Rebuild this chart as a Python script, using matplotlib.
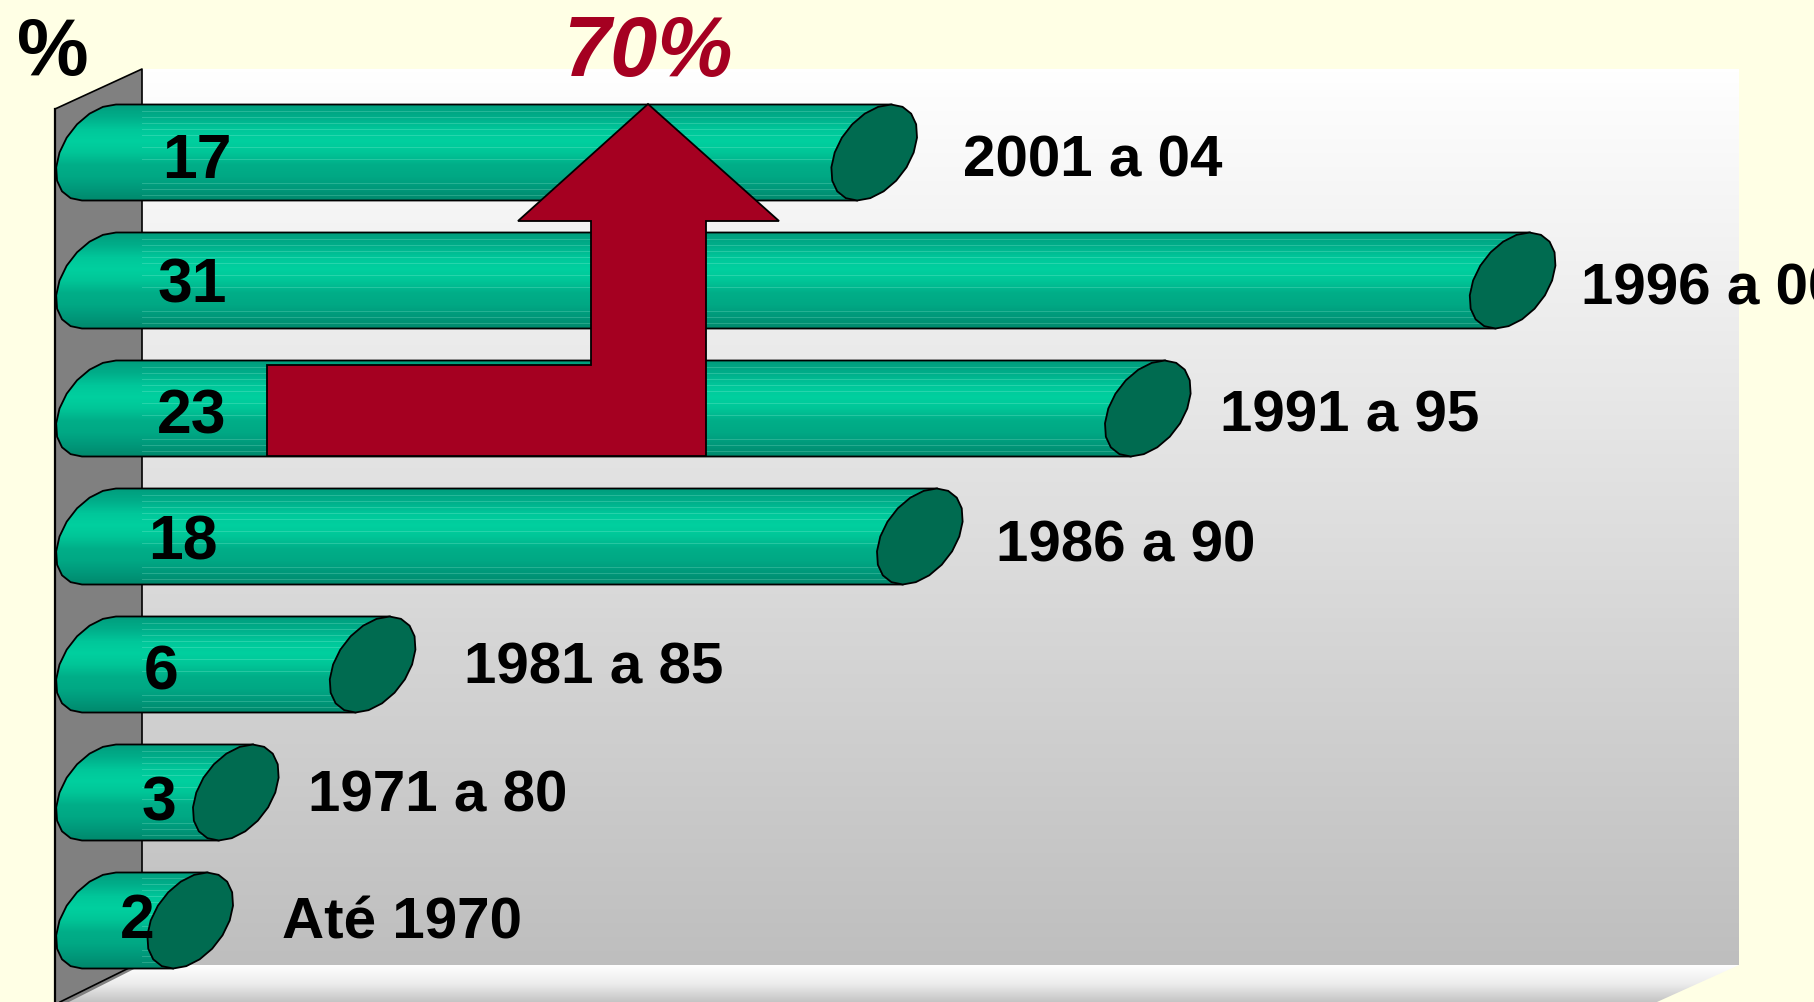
import numpy as np
import matplotlib
matplotlib.use('Agg')
import matplotlib.pyplot as plt
from matplotlib.colors import LinearSegmentedColormap
from matplotlib.patches import Polygon

plt.rcParams['font.family'] = ['Liberation Sans', 'DejaVu Sans']

# Data
periods = ['2001 a 04', '1996 a 00', '1991 a 95', '1986 a 90', '1981 a 85', '1971 a 80', 'Até 1970']
shares = [17, 31, 23, 18, 6, 3, 2]

# Label positions in image pixels
value_x = [197, 192, 192, 183, 161, 159, 137]
value_base = [178, 302, 434, 560, 690, 821, 938]
period_x = [963, 1581, 1220, 996, 464, 308, 282]
period_base = [176, 304, 432, 561, 683, 812, 939]

W, H = 1814, 1003
BG = '#FFFFE5'
RED = '#A50021'
CAP = '#006B50'

# scale of the bars: value 0 sits at px 99, rows are 128 px apart
PX_UNIT = 45.6
X0, Y0, ROW = 99, 153.5, 128
RX, SHEAR, RY = 39.5 / PX_UNIT, 17 / PX_UNIT, 48 / ROW

fig = plt.figure(figsize=(W / 100, H / 100), dpi=100, facecolor=BG)

# pixel axes for the walls, labels and arrow
bg = fig.add_axes([0, 0, 1, 1], zorder=0)
bg.set_xlim(0, W)
bg.set_ylim(H, 0)
bg.axis('off')

# back wall
wall = LinearSegmentedColormap.from_list('wall', ['#FFFFFF', '#BEBEBE'])
grad = np.linspace(0, 1, 256).reshape(-1, 1)
bg.imshow(grad, cmap=wall, extent=[142, 1739, 966, 70], aspect='auto', zorder=1)

# floor
floor_cm = LinearSegmentedColormap.from_list('floor', ['#FFFFFF', '#EDEDED', '#C4C4C4'])
floor = bg.imshow(grad, cmap=floor_cm, extent=[55, 1739, 1003, 966], aspect='auto', zorder=1)
floor_clip = Polygon([(142, 966), (1739, 966), (1657, 1003), (60, 1003)], transform=bg.transData)
floor.set_clip_path(floor_clip)

# side wall
bg.add_patch(Polygon([(55, 110), (142, 70), (142, 966), (55, 1010)], closed=True,
                     facecolor='#808080', edgecolor='none', zorder=2))
bg.plot([55, 142, 142], [110, 70, 966], color='black', lw=1.2, zorder=2)
bg.plot([55, 55], [110, 1003], color='black', lw=1.6, zorder=2)
bg.plot([60, 135], [1003, 966], color='black', lw=1.2, zorder=2)
bg.set_xlim(0, W)
bg.set_ylim(H, 0)

# chart axes on top, in data units
ax = fig.add_axes([0, 0, 1, 1], zorder=1)
ax.patch.set_alpha(0)
ax.axis('off')
xlim = (-X0 / PX_UNIT, (W - X0) / PX_UNIT)
ylim = ((H - Y0) / ROW, -Y0 / ROW)

# vertical shading of a cylinder, with the thin light lines of the original
stops = ['#009E7E', '#00AE8A', '#00C79A', '#00D09F', '#00C597', '#00AE88', '#00A884', '#00987A', '#00886C']
cyl = LinearSegmentedColormap.from_list('cyl', stops)
shade = cyl(np.linspace(0, 1, 96))[:, :3]
striped = shade.copy()
for r in [6, 12, 18, 24, 30, 42, 54, 78, 84, 90]:
    striped[r] = striped[r] * 0.8 + 0.2 * np.array([0.75, 1, 0.92])


def ellipse(cx, cy, t):
    return cx + RX * np.cos(t) - SHEAR * np.sin(t), cy + RY * np.sin(t)


for i, v in enumerate(shares):
    t_left = np.linspace(-np.pi / 2, -3 * np.pi / 2, 11)
    xl, yl = ellipse(0, i, t_left)
    body_xy = list(zip(xl, yl)) + [(v - SHEAR, i + RY), (v + SHEAR, i - RY)]
    body_clip = Polygon(body_xy, closed=True, transform=ax.transData)
    x_split = (142 - X0) / PX_UNIT
    for img, x_a, x_b in [(shade, -1.2, x_split), (striped, x_split, v + 1.2)]:
        if x_b > x_a:
            im = ax.imshow(img[:, None, :], extent=[x_a, x_b, i + RY, i - RY],
                           aspect='auto', interpolation='nearest', zorder=3)
            im.set_clip_path(body_clip)
    ax.add_patch(Polygon(body_xy, closed=True, fill=False, edgecolor='black', lw=1.3, zorder=4))
    xc, yc = ellipse(v, i, np.linspace(0, 2 * np.pi, 21))
    ax.add_patch(Polygon(list(zip(xc, yc)), closed=True, facecolor=CAP, edgecolor='black', lw=1.3, zorder=5))

ax.set_xlim(xlim)
ax.set_ylim(ylim)

# value and period labels
for i, v in enumerate(shares):
    ax.text(value_x[i], value_base[i], str(v), transform=bg.transData, ha='center', va='baseline',
            fontsize=45, fontweight='bold', color='black', zorder=6)
    ax.text(period_x[i], period_base[i], periods[i], transform=bg.transData, ha='left', va='baseline',
            fontsize=42, fontweight='bold', color='black', zorder=6, clip_on=True)

# growth arrow
arrow = [(648, 105), (779, 222), (706, 222), (706, 457), (267, 457), (267, 366), (591, 366), (591, 222), (518, 222)]
ax.add_patch(Polygon(arrow, closed=True, transform=bg.transData, facecolor=RED, edgecolor='black',
                     lw=1.3, zorder=7))

ax.text(53, 75, '%', transform=bg.transData, ha='center', va='baseline', fontsize=58,
        fontweight='bold', color='black', zorder=8)
ax.text(648, 76, '70%', transform=bg.transData, ha='center', va='baseline', fontsize=61,
        fontweight='bold', fontstyle='italic', color=RED, zorder=8)

fig.savefig('out.png', dpi=100, facecolor=BG)
